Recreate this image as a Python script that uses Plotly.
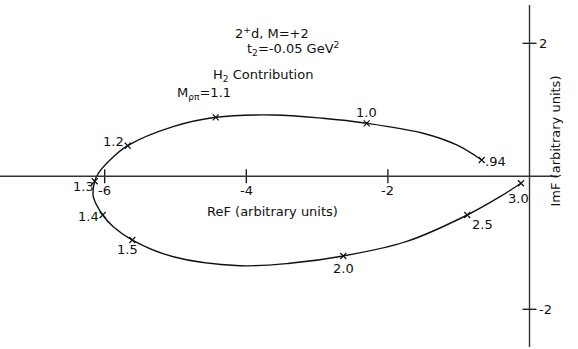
import plotly.graph_objects as go

# Argand-plot trajectory of the H2 amplitude as M_rho-pi varies
curve_re = [-0.675, -1.028, -1.504, -2.30, -2.917, -3.623, -4.432, -5.035, -5.675,
            -5.925, -6.090, -6.141, -6.161, -6.028, -5.879, -5.610, -5.031, -4.089,
            -3.383, -2.630, -1.744, -0.879, -0.417, -0.120]
curve_im = [0.245, 0.471, 0.647, 0.797, 0.872, 0.922, 0.887, 0.746, 0.460,
            0.245, 0.045, -0.075, -0.307, -0.582, -0.758, -0.958, -1.209, -1.344,
            -1.308, -1.198, -0.983, -0.582, -0.307, -0.105]

# marked masses along the curve (GeV)
mass_labels = [".94", "1.0", "M<sub>ρπ</sub>=1.1", "1.2", "1.3", "1.4", "1.5", "2.0", "2.5", "3.0"]
mark_re = [-0.675, -2.30, -4.432, -5.675, -6.141, -6.028, -5.610, -2.630, -0.879, -0.120]
mark_im = [0.245, 0.797, 0.887, 0.460, -0.075, -0.582, -0.958, -1.198, -0.582, -0.105]
# label offsets from each mark, in pixels
label_dx = [14, 0, -12, -14, -11, -14, -5, 0, 15, -3]
label_dy = [-1, 11, 24, 4, -5, -1, -9, -13, -9, -15]

x_ticks = [-6, -4, -2]
x_tick_text = ["-6", "-4", "-2"]
y_ticks = [2, -2]
y_tick_text = ["2", "-2"]

W, H = 578, 349
X0_PX, XS = 529.5, 70.8
Y0_PX, YS = 176.3, 66.5
x_range = [-X0_PX / XS, (W - X0_PX) / XS]
y_range = [(Y0_PX - H) / YS, Y0_PX / YS]

FONT = "DejaVu Sans"
FS = 13
INK = "#111111"

fig = go.Figure()

fig.add_trace(go.Scatter(
    x=curve_re, y=curve_im, mode="lines",
    line=dict(color=INK, width=1.4, shape="spline", smoothing=1.0),
    hoverinfo="skip", showlegend=False))

fig.add_trace(go.Scatter(
    x=mark_re, y=mark_im, mode="markers",
    marker=dict(symbol="x-thin", size=6, line=dict(color=INK, width=1.2)),
    showlegend=False))

# tick crosses on the axes
fig.add_trace(go.Scatter(
    x=x_ticks, y=[0] * len(x_ticks), mode="markers",
    marker=dict(symbol="line-ns", size=10, line=dict(color=INK, width=1.3)),
    showlegend=False, hoverinfo="skip"))
fig.add_trace(go.Scatter(
    x=[0] * len(y_ticks), y=y_ticks, mode="markers",
    marker=dict(symbol="line-ew", size=10, line=dict(color=INK, width=1.3)),
    showlegend=False, hoverinfo="skip"))

shapes = [
    dict(type="line", xref="x", yref="y", x0=x_range[0], x1=(557 - X0_PX) / XS,
         y0=0, y1=0, line=dict(color="#333333", width=1.4)),
    dict(type="line", xref="x", yref="y", x0=0, x1=0,
         y0=(Y0_PX - 5) / YS, y1=(Y0_PX - 347) / YS, line=dict(color="#333333", width=1.4)),
]

ann = []
for xv, t in zip(x_ticks, x_tick_text):
    ann.append(dict(x=xv, y=0, xref="x", yref="y", text=t, showarrow=False,
                    yshift=-14, font=dict(size=FS, color=INK, family=FONT)))
for yv, t in zip(y_ticks, y_tick_text):
    ann.append(dict(x=0, y=yv, xref="x", yref="y", text=t, showarrow=False,
                    xanchor="left", xshift=7, font=dict(size=FS, color=INK, family=FONT)))
for xv, yv, t, dx, dy in zip(mark_re, mark_im, mass_labels, label_dx, label_dy):
    ann.append(dict(x=xv, y=yv, xref="x", yref="y", text=t, showarrow=False,
                    xshift=dx, yshift=dy, font=dict(size=FS, color=INK, family=FONT)))


def paper(px, py):
    return px / W, 1 - py / H


for txt, px, py in [("2<sup>+</sup>d, M=+2", 272, 23),
                    ("t<sub>2</sub>=-0.05 GeV<sup>2</sup>", 293, 38),
                    ("H<sub>2</sub> Contribution", 263, 65),
                    ("ReF (arbitrary units)", 272, 211)]:
    xp, yp = paper(px, py)
    ann.append(dict(x=xp, y=yp, xref="paper", yref="paper", text=txt, showarrow=False,
                    font=dict(size=FS, color=INK, family=FONT)))

xp, yp = paper(564, 141)
ann.append(dict(x=xp, y=yp, xref="paper", yref="paper", text="ImF (arbitrary units)",
                showarrow=False, textangle=-90, font=dict(size=FS, color=INK, family=FONT)))

fig.update_layout(
    width=W, height=H,
    margin=dict(l=0, r=0, t=0, b=0),
    paper_bgcolor="white", plot_bgcolor="white",
    xaxis=dict(range=x_range, visible=False, fixedrange=True),
    yaxis=dict(range=y_range, visible=False, fixedrange=True),
    shapes=shapes, annotations=ann,
)

fig.write_html("out.html")
